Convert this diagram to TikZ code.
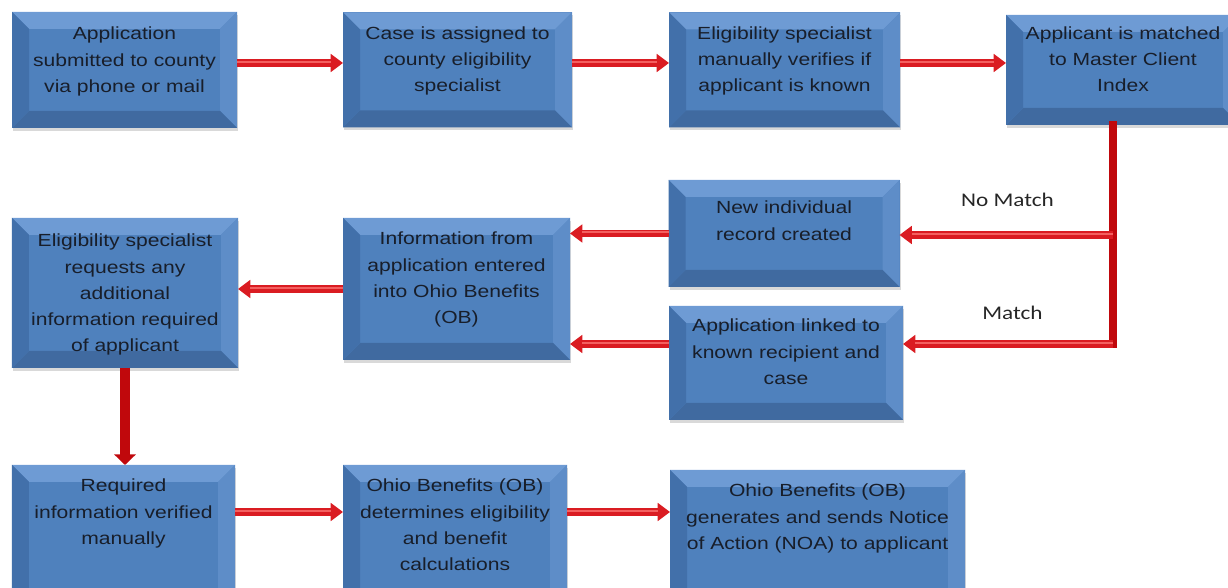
\documentclass[tikz,border=0pt]{standalone}
\usepackage{fontspec}
\setmainfont{Liberation Sans}[FakeStretch=1.2]
\newfontfamily\lblfont{Carlito}[FakeStretch=1.2]
\usetikzlibrary{positioning}
\usetikzlibrary{arrows.meta}
\usetikzlibrary{shadows}

\definecolor{boxface}{RGB}{79,129,189}
\definecolor{bevtop}{RGB}{110,155,212}
\definecolor{bevright}{RGB}{94,141,200}
\definecolor{bevbottom}{RGB}{64,106,160}
\definecolor{bevleft}{RGB}{66,112,170}
\definecolor{boxtext}{RGB}{24,30,42}
\definecolor{flowred}{RGB}{218,28,34}
\definecolor{flowlight}{RGB}{244,96,96}
\definecolor{flowdark}{RGB}{192,8,12}

\newcommand{\bevw}{0.34cm}

\tikzset{
  bevelled/.style={path picture={
    \path (path picture bounding box.north west) coordinate (pnw)
          (path picture bounding box.north east) coordinate (pne)
          (path picture bounding box.south east) coordinate (pse)
          (path picture bounding box.south west) coordinate (psw);
    \path ([shift={(\bevw,-\bevw)}]pnw) coordinate (qnw)
          ([shift={(-\bevw,-\bevw)}]pne) coordinate (qne)
          ([shift={(-\bevw,\bevw)}]pse) coordinate (qse)
          ([shift={(\bevw,\bevw)}]psw) coordinate (qsw);
    \fill[bevtop] (pnw) -- (pne) -- (qne) -- (qnw) -- cycle;
    \fill[bevright] (pne) -- (pse) -- (qse) -- (qne) -- cycle;
    \fill[bevbottom] (pse) -- (psw) -- (qsw) -- (qse) -- cycle;
    \fill[bevleft] (psw) -- (pnw) -- (qnw) -- (qsw) -- cycle;
  }},
}

\begin{document}
\begin{tikzpicture}[
    procbox/.style n args={3}{fill=boxface, minimum width=#1, text width=#1,
      minimum height=#2, inner sep=0pt, outer sep=0pt,
      text height=0pt, text depth=#3, align=center, text=boxtext,
      font=\fontsize{10}{14.8}\selectfont, bevelled,
      drop shadow={shadow xshift=0.6pt, shadow yshift=-1.5pt, opacity=0.3}},
    flow/.style={draw=flowred, line width=4.4pt, -{Triangle[length=7pt, width=10pt]},
      postaction={draw=flowlight, line width=1.2pt, -, shorten >=7pt,
        transform canvas={yshift=0.7pt}}},
    flowdown/.style={draw=flowdark, line width=5.5pt, -{Triangle[length=6pt, width=12pt]}},
    trunk/.style={draw=flowdark, line width=4.5pt, line cap=rect},
    branch/.style={font=\lblfont\fontsize{11}{13}\selectfont, text=black!85},
  ]
    \useasboundingbox (0,0) rectangle (24.56,-11.76);

    % first row
    \node(b1) [procbox={4.50cm}{2.32cm}{1.20cm}] at (2.49,-1.40)
        {Application\\submitted to county\\via phone or mail};
    \node(b2) [procbox={4.58cm}{2.30cm}{1.22cm}, right=2.12cm of b1]
        {Case is assigned to\\county eligibility\\specialist};
    \node(b3) [procbox={4.62cm}{2.30cm}{1.22cm}, right=1.94cm of b2]
        {Eligibility specialist\\manually verifies if\\applicant is known};
    \node(b4) [procbox={4.68cm}{2.20cm}{1.22cm}, right=2.12cm of b3]
        {Applicant is matched\\to Master Client\\Index};

    % second row
    \node(nrec) [procbox={4.62cm}{2.14cm}{0.78cm}] at (15.68,-4.67)
        {New individual\\record created};
    \node(link) [procbox={4.68cm}{2.28cm}{1.24cm}] at (15.72,-7.26)
        {Application linked to\\known recipient and\\case};
    \node(info) [procbox={4.54cm}{2.84cm}{1.76cm}] at (9.13,-5.78)
        {Information from\\application entered\\into Ohio Benefits\\(OB)};
    \node(elig) [procbox={4.52cm}{3.00cm}{1.84cm}] at (2.50,-5.86)
        {Eligibility specialist\\requests any\\additional\\information required\\of applicant};

    % third row
    \node(req) [procbox={4.46cm}{2.94cm}{1.86cm}] at (2.47,-10.77)
        {Required\\information verified\\manually};
    \node(obdet) [procbox={4.48cm}{2.94cm}{1.86cm}] at (9.10,-10.77)
        {Ohio Benefits (OB)\\determines eligibility\\and benefit\\calculations};
    \node(obsend) [procbox={5.90cm}{2.84cm}{1.76cm}] at (16.35,-10.82)
        {Ohio Benefits (OB)\\generates and sends Notice\\of Action (NOA) to applicant};

    \node(nomatch) [branch] at (20.15,-4.00) {No Match};
    \node(match) [branch] at (20.25,-6.26) {Match};

    \coordinate(jn) at (22.26,-4.70);
    \coordinate(jm) at (22.26,-6.88);
    \coordinate(rr) at ([yshift=0.53cm]req.east);

    \draw[flow] ([yshift=0.14cm]b1.east) -- ([yshift=0.14cm]b2.west);
    \draw[flow] ([yshift=0.14cm]b2.east) -- ([yshift=0.14cm]b3.west);
    \draw[flow] ([yshift=0.14cm]b3.east) -- ([yshift=0.14cm]b4.west);

    \draw[trunk] ([xshift=-0.2cm]b4.south) -- (jm);
    \draw[flow] (jn) -- (jn -| nrec.east);
    \draw[flow] (jm) -- (jm -| link.east);

    \draw[flow] (nrec.west) -- (info.east |- nrec.west);
    \draw[flow] (link.west |- jm) -- (info.east |- jm);
    \draw[flow] (info.west) -- (elig.east |- info.west);
    \draw[flowdown] (elig.south) -- (elig.south |- req.north);
    \draw[flow] (rr) -- (rr -| obdet.west);
    \draw[flow] (obdet.east |- rr) -- (obsend.west |- rr);
\end{tikzpicture}
\end{document}
